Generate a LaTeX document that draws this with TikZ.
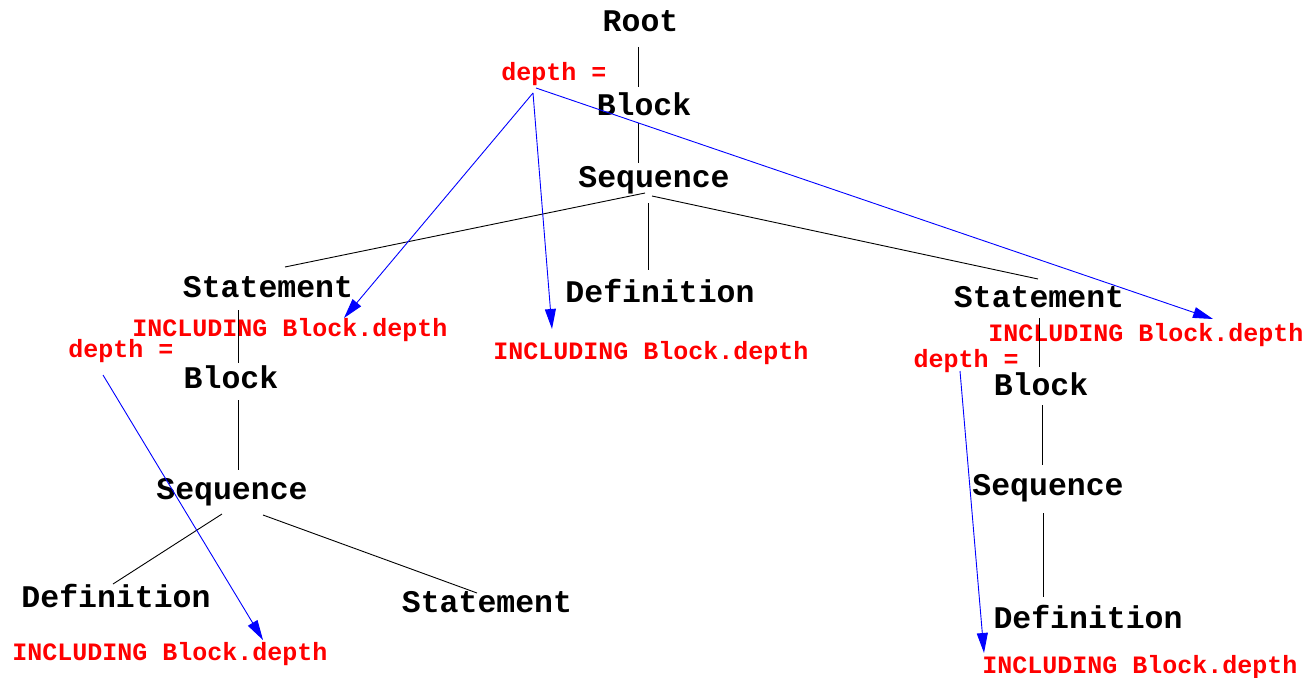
\documentclass[tikz,border=0pt]{standalone}
\usepackage{fontspec}
\setmainfont{Liberation Mono}
\usetikzlibrary{arrows.meta}
\definecolor{attrred}{RGB}{255,0,0}
\definecolor{deparrow}{RGB}{0,0,255}
\tikzset{
  treenode/.style={anchor=base, inner sep=0pt, font=\fontsize{31.5}{36}\selectfont\bfseries},
  attrtext/.style={anchor=base, inner sep=0pt, text=attrred, font=\fontsize{25}{30}\selectfont\bfseries},
  treeedge/.style={draw=black, line width=0.9pt},
  depedge/.style={draw=deparrow, line width=0.9pt, -{Triangle[length=20pt,width=11pt]}}
}
\begin{document}
\begin{tikzpicture}[x=1pt, y=-1pt]
  \useasboundingbox (0,0) rectangle (1308,677);
  % syntax tree
  \node[treenode] (root) at (640.5,32) {Root};
  \node[treenode] (blkT) at (644,115) {Block};
  \node[treenode] (seqT) at (654,187) {Sequence};
  \node[treenode] (stL)  at (268,297) {Statement};
  \node[treenode] (defM) at (660,302) {Definition};
  \node[treenode] (stR)  at (1039,307) {Statement};
  \node[treenode] (blkL) at (231,388) {Block};
  \node[treenode] (seqL) at (232,499) {Sequence};
  \node[treenode] (defBL) at (116,607) {Definition};
  \node[treenode] (stB)  at (487,612) {Statement};
  \node[treenode] (blkR) at (1041,395) {Block};
  \node[treenode] (seqR) at (1048,495) {Sequence};
  \node[treenode] (defR) at (1088,628) {Definition};
  % attribute computations
  \node[attrtext] (depT)  at (554,81)  {depth =};
  \node[attrtext] (incL)  at (290,336) {INCLUDING Block.depth};
  \node[attrtext] (depL)  at (121,357) {depth =};
  \node[attrtext] (incM)  at (651,359) {INCLUDING Block.depth};
  \node[attrtext] (incR)  at (1146,341) {INCLUDING Block.depth};
  \node[attrtext] (depR)  at (966,367) {depth =};
  \node[attrtext] (incBL) at (170,660) {INCLUDING Block.depth};
  \node[attrtext] (incBR) at (1140,673) {INCLUDING Block.depth};
  % tree edges
  \draw[treeedge] ([shift={(-2.5,15)}]root.base) -- ([shift={(-6,-28)}]blkT.base);
  \draw[treeedge] ([shift={(-6,8)}]blkT.base) -- ([shift={(-16,-24)}]seqT.base);
  \draw[treeedge] ([shift={(-9,6)}]seqT.base) -- ([shift={(17,-30)}]stL.base);
  \draw[treeedge] ([shift={(-6,16)}]seqT.base) -- ([shift={(-12,-32)}]defM.base);
  \draw[treeedge] ([shift={(-2,9)}]seqT.base) -- ([shift={(-1,-28)}]stR.base);
  \draw[treeedge] ([shift={(-30,13)}]stL.base) -- ([shift={(7,-25)}]blkL.base);
  \draw[treeedge] ([shift={(7,12)}]blkL.base) -- ([shift={(6,-29)}]seqL.base);
  \draw[treeedge] ([shift={(-10,15)}]seqL.base) -- ([shift={(-3,-23)}]defBL.base);
  \draw[treeedge] ([shift={(31,16)}]seqL.base) -- ([shift={(-10,-19)}]stB.base);
  \draw[treeedge] ([shift={(0,11)}]stR.base) -- ([shift={(-2,-28)}]blkR.base);
  \draw[treeedge] ([shift={(1,10)}]blkR.base) -- ([shift={(-6,-30)}]seqR.base);
  \draw[treeedge] ([shift={(-5,18)}]seqR.base) -- ([shift={(-45,-31)}]defR.base);
  % attribute dependencies
  \draw[depedge] ([shift={(-21,12)}]depT.base) -- ([shift={(54,-18)}]incL.base);
  \draw[depedge] ([shift={(-21,12)}]depT.base) -- ([shift={(-99,-30)}]incM.base);
  \draw[depedge] ([shift={(-18,7)}]depT.base) -- ([shift={(67,-22)}]incR.base);
  \draw[depedge] ([shift={(-18,18)}]depL.base) -- ([shift={(93,-20)}]incBL.base);
  \draw[depedge] ([shift={(-6,4)}]depR.base) -- ([shift={(-156,-20)}]incBR.base);
\end{tikzpicture}
\end{document}
